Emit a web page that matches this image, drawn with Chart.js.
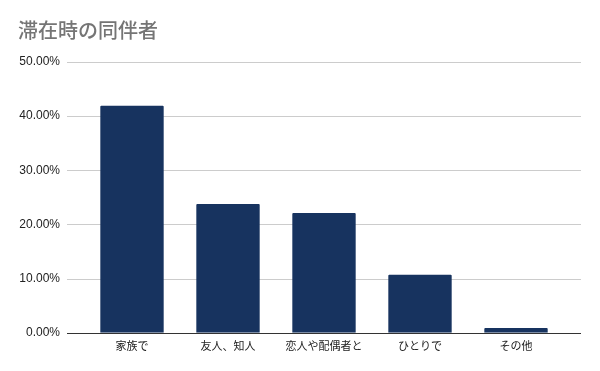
<!DOCTYPE html>
<html>
<head>
<meta charset="utf-8">
<script src="https://cdn.jsdelivr.net/npm/chart.js@4"></script>
<style>
  html, body { margin: 0; padding: 0; background: #fff; }
  #wrap { width: 600px; height: 371px; }
</style>
</head>
<body>
<div id="wrap"><canvas id="chart"></canvas></div>
<script>
const categories = ["家族で", "友人、知人", "恋人や配偶者と", "ひとりで", "その他"];
const shares = [41.9, 23.8, 22.1, 10.7, 0.9];
const yTicks = [0, 10, 20, 30, 40, 50];

// grid lines run a bit past the bar area on both sides, like the original
const gridExt = {
    id: 'gridExt',
    beforeDatasetsDraw(chart) {
        const ctx = chart.ctx;
        const area = chart.chartArea;
        const y = chart.scales.y;
        ctx.save();
        yTicks.forEach((t) => {
            const py = Math.round(y.getPixelForValue(t)) + 0.5;
            ctx.beginPath();
            ctx.strokeStyle = t === 0 ? '#333333' : '#cccccc';
            ctx.lineWidth = 1;
            ctx.moveTo(area.left - 17, py);
            ctx.lineTo(area.right + 17, py);
            ctx.stroke();
        });
        ctx.restore();
    }
};

new Chart(document.getElementById('chart'), {
    type: 'bar',
    data: {
        labels: categories,
        datasets: [{
            label: '割合',
            data: shares,
            backgroundColor: '#17335f',
            borderRadius: 1,
            barPercentage: 0.66,
            categoryPercentage: 1
        }]
    },
    options: {
        responsive: true,
        maintainAspectRatio: false,
        animation: false,
        layout: { padding: { left: 18, right: 36, top: 18, bottom: 17 } },
        plugins: {
            legend: { display: false },
            tooltip: { enabled: false },
            title: {
                display: true,
                text: '滞在時の同伴者',
                align: 'start',
                color: '#757575',
                font: { family: "'Noto Sans CJK JP', 'Liberation Sans', sans-serif", size: 20, weight: 500, lineHeight: 1.2 },
                padding: { top: 0, bottom: 20 }
            }
        },
        scales: {
            x: {
                grid: { display: false },
                border: { display: false },
                ticks: {
                    color: '#222222',
                    padding: 0,
                    maxRotation: 0,
                    font: { family: "'Liberation Sans', 'Noto Sans CJK JP', sans-serif", size: 11 }
                }
            },
            y: {
                min: 0,
                max: 50,
                afterFit: (s) => { s.width = 66; },
                afterBuildTicks: (s) => { s.ticks = yTicks.map((v) => ({ value: v })); },
                grid: { display: false },
                border: { display: false },
                ticks: {
                    color: '#222222',
                    padding: 16,
                    font: { family: "'Liberation Sans', sans-serif", size: 12 },
                    callback: (v) => v.toFixed(2) + '%'
                }
            }
        }
    },
    plugins: [gridExt]
});
</script>
</body>
</html>
